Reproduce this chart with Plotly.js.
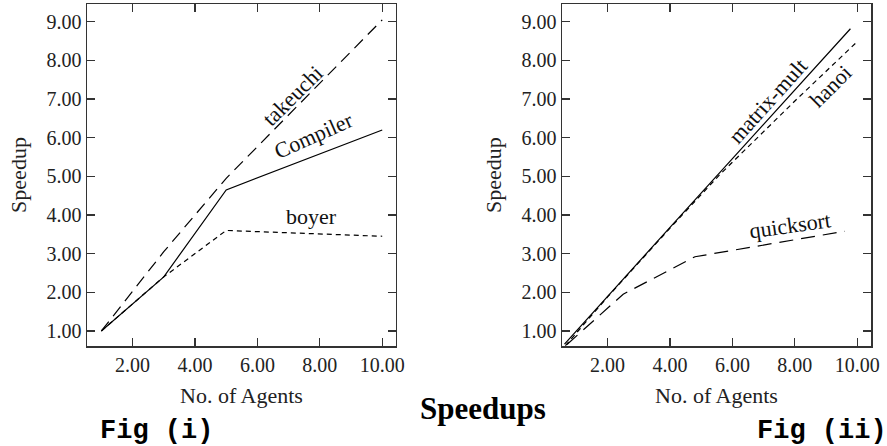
<!DOCTYPE html>
<html><head><meta charset="utf-8">
<script src="https://cdn.plot.ly/plotly-3.0.1.min.js"></script>
<style>html,body{margin:0;padding:0;background:#fff}</style>
</head><body><div id="chart" style="width:887px;height:446px"></div>
<script>
// ---- Fig (i) data ----
const agentsI = [1, 3, 5, 10];
const compiler = [1.0, 2.4, 4.65, 6.2];
const takeuchi = [1.0, 3.05, 4.95, 9.05];
const boyer = [1.0, 2.4, 3.6, 3.45];
// ---- Fig (ii) data ----
const matrixX = [0.62, 2, 4, 6, 8, 9.78];
const matrixMult = [0.66, 1.9, 3.68, 5.46, 7.24, 8.82];
const hanoiX = [0.65, 2, 4, 5.6, 8, 9.95];
const hanoi = [0.62, 1.88, 3.66, 5.05, 6.95, 8.45];
const quicksortX = [0.7, 2.5, 4.8, 9.6];
const quicksort = [0.65, 1.95, 2.92, 3.58];
// ---- ticks ----
const xTicks = [2, 4, 6, 8, 10];
const yTicks = [1, 2, 3, 4, 5, 6, 7, 8, 9];

const serif = 'Liberation Serif, Times New Roman, serif';
const mono = 'Liberation Mono, Courier New, monospace';
const axisCol = '#333';

function line(x, y, dash, xa, ya) {
  return {x: x, y: y, xaxis: xa, yaxis: ya, mode: 'lines', type: 'scatter',
          line: {color: '#000', width: 1.2, dash: dash}, hoverinfo: 'skip', showlegend: false};
}
const traces = [
  line(agentsI, compiler, 'solid', 'x', 'y'),
  line(agentsI, takeuchi, '12px,7px', 'x', 'y'),
  line(agentsI, boyer, '5px,4px', 'x', 'y'),
  line(matrixX, matrixMult, 'solid', 'x2', 'y2'),
  line(hanoiX, hanoi, '5px,4px', 'x2', 'y2'),
  line(quicksortX, quicksort, '14px,8px', 'x2', 'y2')
];

function xax(domain, anchor) {
  return {domain: domain, anchor: anchor, range: [0.54, 10.44], tickvals: xTicks,
    ticktext: xTicks.map(v => v.toFixed(2)), ticks: 'inside', ticklen: 8, tickwidth: 1.2,
    tickcolor: axisCol, showline: true, linecolor: axisCol, linewidth: 1.5, mirror: 'ticks',
    showgrid: false, zeroline: false, tickfont: {family: serif, size: 20, color: '#222'},
    title: {text: 'No. of Agents', font: {family: serif, size: 22, color: '#222'}, standoff: 13}};
}
function yax(anchor) {
  return {domain: [0.2242, 0.991], anchor: anchor, range: [0.61, 9.46], tickvals: yTicks,
    ticktext: yTicks.map(v => v.toFixed(2)), ticks: 'inside', ticklen: 8, tickwidth: 1.2,
    tickcolor: axisCol, showline: true, linecolor: axisCol, linewidth: 1.5, mirror: 'ticks',
    showgrid: false, zeroline: false, tickfont: {family: serif, size: 20, color: '#222'},
    title: {text: 'Speedup', font: {family: serif, size: 22, color: '#222'}, standoff: 14}};
}

function lab(text, x, y, xr, yr, angle) {
  return {text: text, x: x, y: y, xref: xr, yref: yr, showarrow: false, textangle: angle,
          font: {family: serif, size: 22, color: '#111'}};
}

const layout = {
  width: 887, height: 446, margin: {l: 0, r: 0, t: 0, b: 0},
  paper_bgcolor: '#fff', plot_bgcolor: '#fff',
  xaxis: xax([0.0981, 0.4464], 'y'),
  yaxis: yax('x'),
  xaxis2: xax([0.6336, 0.982], 'y2'),
  yaxis2: yax('x2'),
  annotations: [
    lab('takeuchi', 7.13, 7.1, 'x', 'y', -45),
    lab('Compiler', 7.8, 6.05, 'x', 'y', -24),
    lab('boyer', 7.74, 3.95, 'x', 'y', 0),
    lab('matrix-mult', 7.11, 6.95, 'x2', 'y2', -48),
    lab('hanoi', 9.13, 7.33, 'x2', 'y2', -45),
    lab('quicksort', 7.83, 3.74, 'x2', 'y2', -8),
    {text: '<b>Speedups</b>', x: 0.545, y: 0.083, xref: 'paper', yref: 'paper', showarrow: false,
     xanchor: 'center', yanchor: 'middle', font: {family: serif, size: 31, color: '#000'}},
    {text: '<b>Fig (i)</b>', x: 0.1765, y: 0.034, xref: 'paper', yref: 'paper', showarrow: false,
     xanchor: 'center', yanchor: 'middle', font: {family: mono, size: 27, color: '#000'}},
    {text: '<b>Fig (ii)</b>', x: 0.927, y: 0.034, xref: 'paper', yref: 'paper', showarrow: false,
     xanchor: 'center', yanchor: 'middle', font: {family: mono, size: 27, color: '#000'}}
  ]
};

Plotly.newPlot('chart', traces, layout, {staticPlot: true, displayModeBar: false});
</script></body></html>
